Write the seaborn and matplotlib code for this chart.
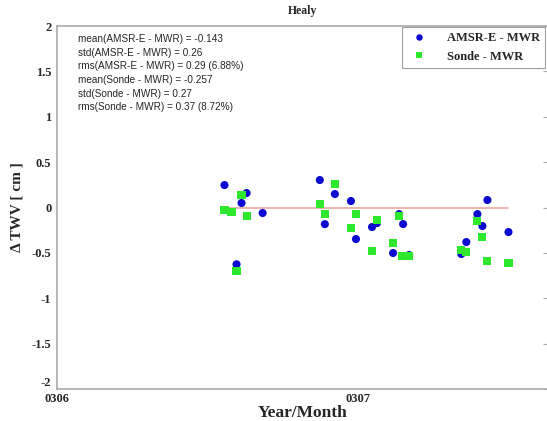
import matplotlib
matplotlib.use("Agg")
import matplotlib.pyplot as plt
import seaborn as sns
import pandas as pd
import numpy as np

# days since 2003-06-01
amsr_day = [16.7, 17.9, 18.4, 18.9, 20.5, 26.2, 26.7, 27.7, 29.3, 29.8, 31.4,
            31.9, 33.5, 34.1, 34.5, 35.1, 40.3, 40.8, 41.9, 42.4, 42.9, 45.0]
amsr_diff = [0.248, -0.625, 0.05, 0.16, -0.06, 0.303, -0.183, 0.149, 0.072, -0.347, -0.215,
             -0.171, -0.501, -0.072, -0.182, -0.523, -0.512, -0.380, -0.072, -0.204, 0.083, -0.270]
sonde_day = [16.7, 17.4, 18.4, 18.9, 17.9, 26.2, 27.7, 26.7, 29.8, 29.3, 31.4,
             31.9, 33.5, 34.1, 34.4, 35.1, 40.3, 40.8, 41.9, 42.4, 42.9, 45.0]
sonde_diff = [-0.028, -0.05, 0.138, -0.094, -0.70, 0.039, 0.259, -0.072, -0.072, -0.226, -0.48,
              -0.138, -0.391, -0.094, -0.534, -0.534, -0.468, -0.49, -0.149, -0.325, -0.59, -0.612]
series_names = ["AMSR-E - MWR", "Sonde - MWR"]
xtick_pos = [0, 30]
xtick_labels = ["0306", "0307"]
stats_lines = [
    "mean(AMSR-E - MWR) = -0.143",
    "std(AMSR-E - MWR) = 0.26",
    "rms(AMSR-E - MWR) = 0.29 (6.88%)",
    "mean(Sonde - MWR) = -0.257",
    "std(Sonde - MWR) = 0.27",
    "rms(Sonde - MWR) = 0.37 (8.72%)",
]

df = pd.DataFrame({
    "day": amsr_day + sonde_day,
    "diff": amsr_diff + sonde_diff,
    "series": [series_names[0]] * len(amsr_day) + [series_names[1]] * len(sonde_day),
})

sns.set_style("white")
serif = ["Liberation Serif", "DejaVu Serif"]
sans = ["Liberation Sans", "DejaVu Sans"]

fig = plt.figure(figsize=(5.47, 4.21), dpi=100)
ax = fig.add_axes([0.104, 0.076, 0.899, 0.862])

alldays = amsr_day + sonde_day
ax.plot([min(alldays), max(alldays)], [0, 0], color="#e8a8a0", lw=1.2, zorder=1)

sns.scatterplot(data=df, x="day", y="diff", hue="series", style="series",
                palette={series_names[0]: "#0a0ad0", series_names[1]: "#2de82d"},
                markers={series_names[0]: "o", series_names[1]: "s"},
                s=34, linewidth=0, ax=ax, zorder=3)

ax.set_xlim(0, 49.0)
ax.set_ylim(-2, 2)
ax.set_yticks(np.arange(-2, 2.01, 0.5))
ax.set_yticklabels(["-2", "-1.5", "-1", "-0.5", "0", "0.5", "1", "1.5", "2"])
ax.set_xticks(xtick_pos)
ax.set_xticklabels(xtick_labels)
for lab in ax.get_xticklabels() + ax.get_yticklabels():
    lab.set_fontfamily(serif)
    lab.set_fontweight("bold")
    lab.set_fontsize(9)
ax.get_yticklabels()[0].set_va("bottom")
ax.tick_params(axis="both", direction="in", length=4, color="#aaaaaa", width=0.8,
               right=True, top=False)
ax.tick_params(axis="y", pad=4)
ax.tick_params(axis="x", pad=3)
for sp in ax.spines.values():
    sp.set_color("#aaaaaa")
    sp.set_linewidth(1.2)
ax.spines["right"].set_color("#eeeeee")

ax.set_xlabel("Year/Month", fontfamily=serif, fontweight="bold", fontsize=12.5, labelpad=0)
ax.set_ylabel("Δ TWV [ cm ]", fontfamily=serif, fontweight="bold", fontsize=11, labelpad=6)
ax.set_title("Healy", fontfamily=serif, fontweight="bold", fontsize=8.5, pad=9)

for i, line in enumerate(stats_lines):
    ax.text(0.043, 0.978 - i * 0.0375, line, transform=ax.transAxes, fontsize=7.2,
            fontfamily=sans, va="top", ha="left")

leg = ax.legend(loc="upper right", frameon=True, fancybox=False, borderpad=0.4,
                handletextpad=1.2, markerscale=0.8, borderaxespad=0.1,
                bbox_to_anchor=(0.995, 1.0),
                prop={"family": serif, "weight": "bold", "size": 9})
leg.get_frame().set_edgecolor("#888888")
leg.get_frame().set_linewidth(0.8)

fig.savefig("out.png", dpi=100)
